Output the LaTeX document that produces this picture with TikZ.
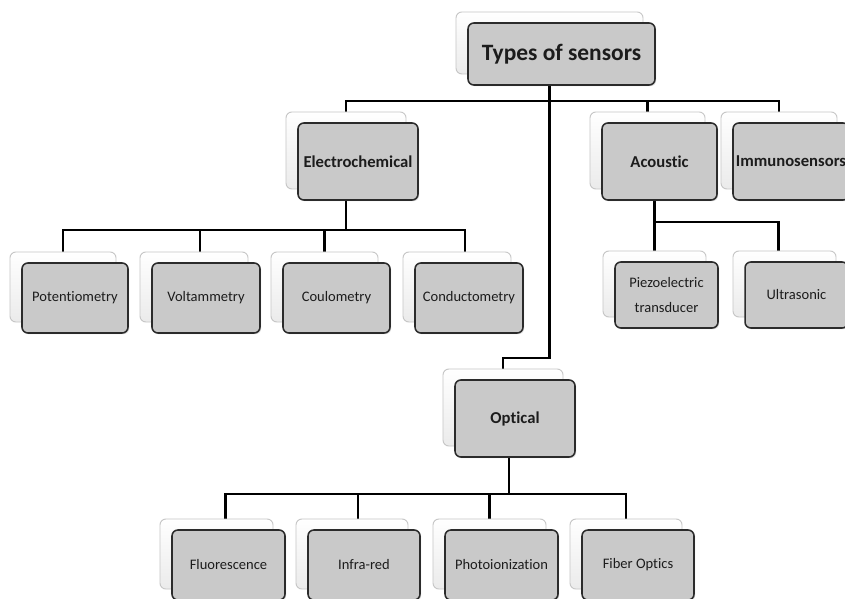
\documentclass[tikz,border=0pt]{standalone}
\usepackage{fontspec}
\setmainfont{Carlito}[Ligatures=NoCommon]
\usetikzlibrary{shadows,backgrounds,calc}

\definecolor{cardgray}{HTML}{C9C9C9}
\definecolor{cardedge}{HTML}{2B2B2B}
\definecolor{backedge}{HTML}{C6C6C6}
\definecolor{inktext}{HTML}{1C1C1C}

\def\pxunit{0.03cm}

\tikzset{
  frontcard/.style={draw=cardedge, line width=1.3pt, fill=cardgray,
    rounded corners=5pt, inner sep=0pt, text=inktext, align=center,
    drop shadow={shadow xshift=1pt, shadow yshift=-1pt, opacity=0.3}},
  backcard/.style={draw=backedge, line width=0.8pt, top color=white,
    bottom color=gray!16, rounded corners=5pt, inner sep=0pt},
  link/.style={line width=2.1pt, black},
  toptext/.style={font=\fontsize{20}{24}\selectfont\bfseries},
  midtext/.style={font=\fontsize{14.2}{17}\selectfont\bfseries},
  leaftext/.style={font=\fontsize{12.4}{21}\selectfont},
}

% #1 name, #2 x, #3 y (front card centre), #4 width, #5 height, #6 style, #7 text
\newcommand\sensorcard[7]{%
  \node[backcard, minimum width=#4*\pxunit, minimum height=#5*\pxunit]
    (#1-b) at (#2-12,#3-11) {};
  \node[frontcard, #6, minimum width=#4*\pxunit, minimum height=#5*\pxunit]
    (#1) at (#2,#3) {#7};
}

\begin{document}
\begin{tikzpicture}[x=0.03cm, y=-0.03cm]
  \useasboundingbox (0,0) rectangle (845,599);

  % root
  \sensorcard{top}{561.5}{54}{187}{62}{toptext}{Types of sensors}

  % first level
  \sensorcard{elec}{358}{161.5}{120}{77}{midtext}{Electrochemical}
  \sensorcard{acoustic}{659.5}{161.5}{115}{77}{midtext}{Acoustic}
  \sensorcard{immuno}{791}{161.5}{116}{77}{midtext}{Immunosensors}
  \sensorcard{optical}{515}{418.5}{120}{77}{midtext}{Optical}

  % electrochemical methods
  \sensorcard{pot}{75}{298}{106}{70}{leaftext}{Potentiometry}
  \sensorcard{volt}{206}{298}{108}{70}{leaftext}{Voltammetry}
  \sensorcard{coul}{336.5}{298}{107}{70}{leaftext}{Coulometry}
  \sensorcard{cond}{469}{298}{108}{70}{leaftext}{Conductometry}

  % acoustic methods
  \sensorcard{piezo}{666.5}{295}{103}{66}{leaftext}{Piezoelectric\\transducer}
  \sensorcard{ultra}{796.5}{295}{103}{66}{leaftext}{Ultrasonic}

  % optical methods
  \sensorcard{fluor}{228.5}{565}{113}{70}{leaftext}{Fluorescence}
  \sensorcard{infra}{364}{565}{112}{70}{leaftext}{Infra-red}
  \sensorcard{photo}{501.5}{565}{113}{70}{leaftext}{Photoionization}
  \sensorcard{fiber}{638}{565}{112}{70}{leaftext}{Fiber Optics}

  % bus levels
  \coordinate (busA) at (0,101);
  \coordinate (busO) at (0,358);
  \coordinate (busE) at (0,230);
  \coordinate (busC) at (0,222);
  \coordinate (busP) at (0,494);

  % drop points on the back cards
  \coordinate (volt-d)  at ([xshift=6*\pxunit]volt-b.center);
  \coordinate (cond-d)  at ([xshift=8*\pxunit]cond-b.center);
  \coordinate (ultra-d) at ([xshift=-6*\pxunit]ultra-b.center);
  \coordinate (fluor-d) at ([xshift=9*\pxunit]fluor-b.center);
  \coordinate (infra-d) at ([xshift=6*\pxunit]infra-b.center);

  \begin{scope}[on background layer]
    \fill[white] (0,0) rectangle (845,599);

    % root to first level
    \draw[link] (elec-b.center) |- (immuno-b.center |- busA) -- (immuno-b.center);
    \draw[link] (acoustic-b.center) -- (acoustic-b.center |- busA);
    \draw[link] (top-b.center) |- (optical-b.center |- busO) -- (optical-b.center);

    % electrochemical branch
    \draw[link] (pot-b.center) |- (cond-d |- busE) -- (cond-d);
    \draw[link] (elec-b.center) -- (elec-b.center |- busE);
    \draw[link] (volt-d) -- (volt-d |- busE);
    \draw[link] (coul-b.center) -- (coul-b.center |- busE);

    % acoustic branch
    \draw[link] (piezo-b.center) |- (ultra-d |- busC) -- (ultra-d);
    \draw[link] (piezo-b.center |- acoustic.center) -- (piezo-b.center);

    % optical branch
    \coordinate (optstem) at ($(optical.center)!0.5!(optical-b.center)$);
    \draw[link] (fluor-d) |- (fiber-b.center |- busP) -- (fiber-b.center);
    \draw[link] (optstem) -- (optstem |- busP);
    \draw[link] (infra-d) -- (infra-d |- busP);
    \draw[link] (photo-b.center) -- (photo-b.center |- busP);
  \end{scope}
\end{tikzpicture}
\end{document}
